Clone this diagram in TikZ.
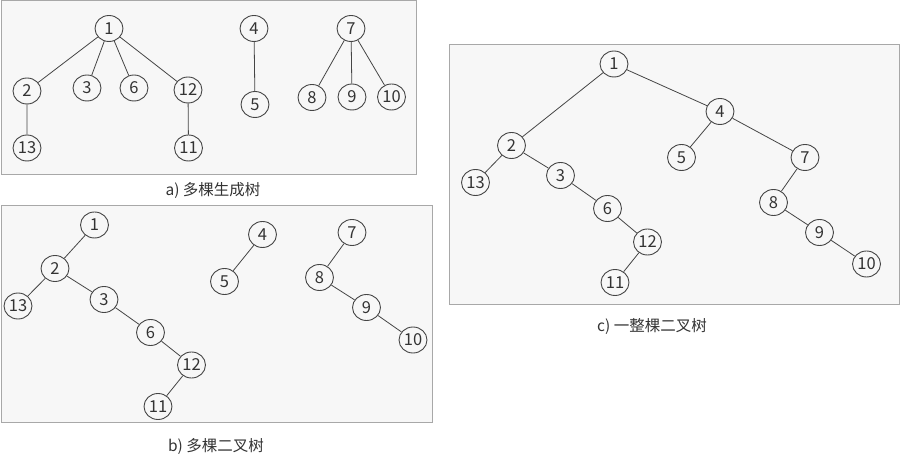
\documentclass[tikz,border=0pt]{standalone}
\usepackage{fontspec}
\setmainfont{Noto Sans CJK SC}
\usetikzlibrary{shapes.geometric}
\definecolor{panelfill}{HTML}{F7F7F7}
\definecolor{panelline}{HTML}{A8A8A8}
\definecolor{nodeline}{HTML}{454545}
\definecolor{txt}{HTML}{333333}
\tikzset{
  panel/.style={draw=panelline, fill=panelfill, line width=1pt},
  tn/.style={shape=ellipse, draw=nodeline, fill=panelfill, line width=0.9pt,
    minimum width=28pt, minimum height=26pt, inner sep=0pt, text=txt,
    font=\fontsize{16.5}{16.5}\selectfont},
  link/.style={draw=nodeline, line width=0.8pt},
  captext/.style={text=txt, font=\fontsize{15.5}{16}\selectfont, inner sep=0pt},
}
\begin{document}
\begin{tikzpicture}[x=1pt, y=-1pt]
\useasboundingbox (0,0) rectangle (900,454);
% panels
\path[panel] (1,1) rectangle (416,175);
\path[panel] (1,206) rectangle (432,422);
\path[panel] (449,45) rectangle (899,305);
% captions
\node[captext] (capa) at (213,190) {a) 多棵生成树};
\node[captext] (capb) at (216,446) {b) 多棵二叉树};
\node[captext] (capc) at (652,327) {c) 一整棵二叉树};

% panel a
\node[tn] (a1) at (109,28.5) {1};
\node[tn] (a2) at (27,91) {2};
\node[tn] (a3) at (87,88) {3};
\node[tn] (a6) at (134,88) {6};
\node[tn] (a12) at (188,90) {12};
\node[tn] (a13) at (27,148) {13};
\node[tn] (a11) at (188.5,148) {11};
\node[tn] (a4) at (254,28.5) {4};
\node[tn] (a5) at (255,104.5) {5};
\node[tn] (a7) at (351,28.5) {7};
\node[tn] (a8) at (312,97.5) {8};
\node[tn] (a9) at (352,97) {9};
\node[tn] (a10) at (391.5,97) {10};
\path[link] (a1) -- (a2) (a1) -- (a3) (a1) -- (a6) (a1) -- (a12)
  (a2) -- (a13) (a12) -- (a11) (a4) -- (a5)
  (a7) -- (a8) (a7) -- (a9) (a7) -- (a10);

% panel b
\node[tn] (b1) at (94.5,225) {1};
\node[tn] (b2) at (55,268.5) {2};
\node[tn] (b13) at (18,306) {13};
\node[tn] (b3) at (104,299.5) {3};
\node[tn] (b6) at (150.5,332.5) {6};
\node[tn] (b12) at (191.5,365) {12};
\node[tn] (b11) at (158,406.5) {11};
\node[tn] (b4) at (262.5,234.5) {4};
\node[tn] (b5) at (224.5,281.5) {5};
\node[tn] (b7) at (352,232.5) {7};
\node[tn] (b8) at (319.5,277.5) {8};
\node[tn] (b9) at (366.5,307.5) {9};
\node[tn] (b10) at (413,340) {10};
\path[link] (b1) -- (b2) (b2) -- (b13) (b2) -- (b3) (b3) -- (b6)
  (b6) -- (b12) (b12) -- (b11) (b4) -- (b5)
  (b7) -- (b8) (b8) -- (b9) (b9) -- (b10);

% panel c
\node[tn] (c1) at (614,64) {1};
\node[tn] (c4) at (720,111.5) {4};
\node[tn] (c2) at (511.5,145.5) {2};
\node[tn] (c5) at (681.5,157.5) {5};
\node[tn] (c7) at (805,157.5) {7};
\node[tn] (c13) at (475.5,182.5) {13};
\node[tn] (c3) at (560.5,175.5) {3};
\node[tn] (c6) at (607.5,208.5) {6};
\node[tn] (c12) at (647.5,242) {12};
\node[tn] (c11) at (615,282.5) {11};
\node[tn] (c8) at (773.5,202.5) {8};
\node[tn] (c9) at (819.5,232.5) {9};
\node[tn] (c10) at (866.5,264) {10};
\path[link] (c1) -- (c2) (c1) -- (c4) (c4) -- (c5) (c4) -- (c7)
  (c2) -- (c13) (c2) -- (c3) (c3) -- (c6) (c6) -- (c12) (c12) -- (c11)
  (c7) -- (c8) (c8) -- (c9) (c9) -- (c10);
\end{tikzpicture}
\end{document}
